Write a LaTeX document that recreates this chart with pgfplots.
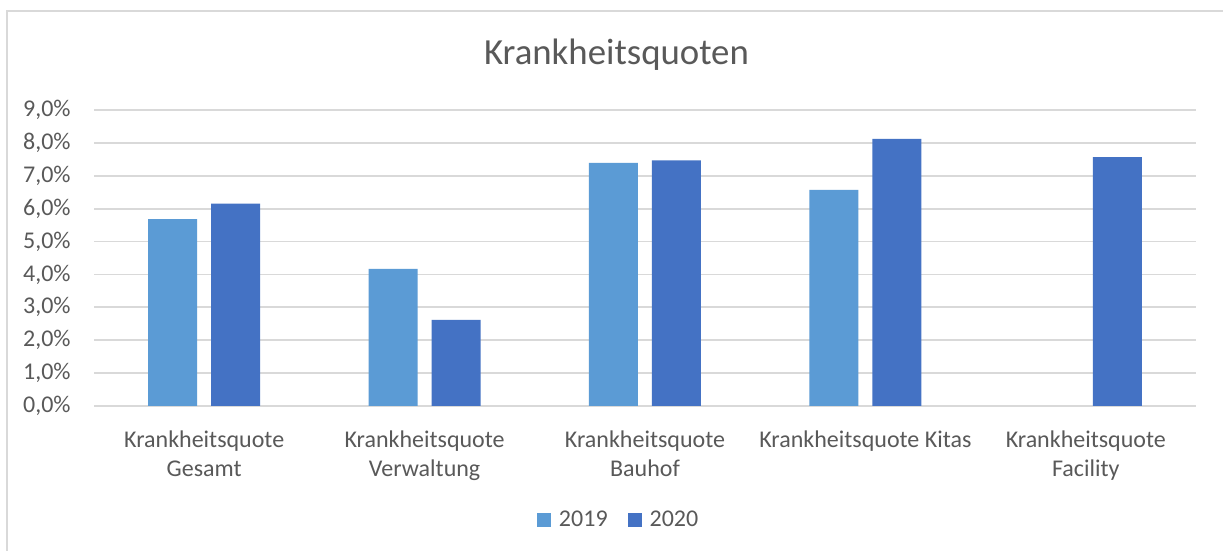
\documentclass[border=0pt]{standalone}
\usepackage{fontspec}
\setmainfont{Carlito}
\usepackage{pgfplots}
\pgfplotsset{compat=1.18}
\definecolor{c2019}{HTML}{5B9BD5}
\definecolor{c2020}{HTML}{4472C4}
\definecolor{gridc}{HTML}{D9D9D9}
\definecolor{txt}{HTML}{595959}

\begin{document}
\begin{tikzpicture}[x=1pt,y=1pt]
\useasboundingbox (0,0) rectangle (611.5,275.5);
\fill[white] (0,0) rectangle (611.5,275.5);
\draw[gridc, line width=1pt] (3.5,0) -- (3.5,270) -- (611.5,270);
\node[font=\fontsize{18.4}{22}\selectfont, text=txt, inner sep=0pt] at (308.25,248) {Krankheitsquoten};
\begin{axis}[
    at={(47pt,72.5pt)}, anchor=south west,
    scale only axis,
    width=551pt, height=148pt,
    ybar=7pt, bar width=24.5pt,
    xmin=-0.5, xmax=4.5,
    ymin=0, ymax=9,
    xtick={0,1,2,3,4},
    xticklabels={{Krankheitsquote\\Gesamt},{Krankheitsquote\\Verwaltung},{Krankheitsquote\\Bauhof},{Krankheitsquote Kitas},{Krankheitsquote\\Facility}},
    ytick={0,1,...,9},
    yticklabel={\pgfmathprintnumber[fixed,fixed zerofill,precision=1,use comma]{\tick}\%},
    /pgf/number format/assume math mode=true,
    axis line style={draw=none},
    major tick length=0pt,
    ymajorgrids,
    major grid style={draw=gridc, line width=0.9pt},
    tick label style={text=txt, font=\fontsize{12}{14.5}\selectfont},
    xticklabel style={align=center, inner sep=0pt, anchor=north, yshift=-12pt},
    yticklabel style={inner sep=0pt, anchor=east, xshift=-11.5pt},
    legend style={at={(0.477,-0.385)}, anchor=center, draw=none, fill=none,
        legend columns=2, text=txt, font=\fontsize{12}{14.5}\selectfont,
        /tikz/every odd column/.append style={column sep=2pt},
        /tikz/every even column/.append style={column sep=8pt}},
    legend image code/.code={\fill[#1] (0pt,-3.5pt) rectangle (7pt,3.5pt);},
]
\addplot[fill=c2019, draw=none] coordinates {
    (0,5.68) (1,4.17) (2,7.39) (3,6.57)
};
\addlegendentry{2019}
\addplot[fill=c2020, draw=none] coordinates {
    (0,6.15) (1,2.62) (2,7.47) (3,8.12) (4,7.57)
};
\addlegendentry{2020}
\end{axis}
\end{tikzpicture}
\end{document}
